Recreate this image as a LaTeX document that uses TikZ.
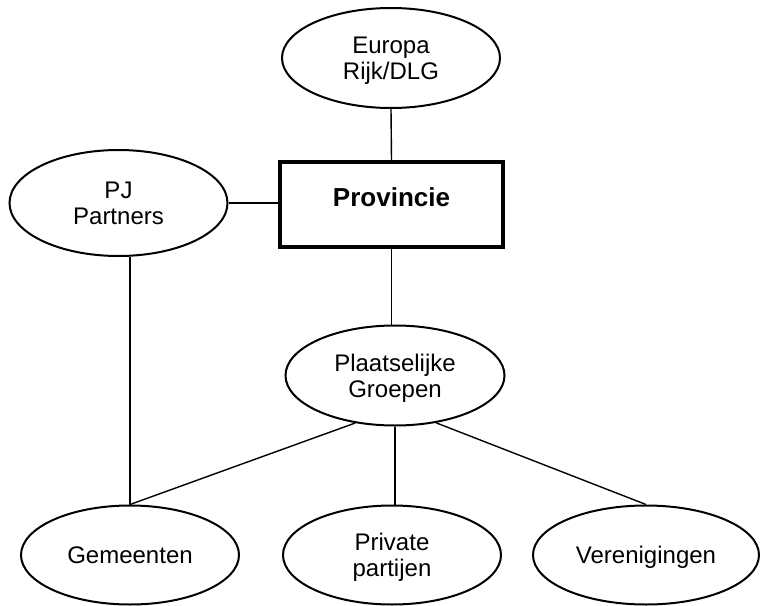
\documentclass[tikz,border=0pt]{standalone}
\usepackage{fontspec}
\setmainfont{Liberation Sans}
\usetikzlibrary{shapes.geometric}
\begin{document}
\begin{tikzpicture}[x=0.5pt, y=-0.5pt,
        party/.style={draw, ellipse, line width=1pt, inner sep=0pt, align=center,
            minimum width=109pt, minimum height=50pt, text depth=0pt,
            font=\fontsize{12}{13}\selectfont},
        hub/.style={draw, rectangle, line width=2pt, inner sep=0pt,
            minimum width=111.5pt, minimum height=42.5pt,
            text height=9pt, text depth=7pt,
            font=\fontsize{13}{15}\selectfont\bfseries},
        link/.style={line width=0.7pt}]
        \useasboundingbox (0,0) rectangle (760,605);

        \node[hub] (prov) at (391.5,204.5) {Provincie};
        \node[party] (eur) at (391,58) {Europa\\Rijk/DLG};
        \node[party, minimum height=53pt] (pj) at (118.5,203) {PJ\\Partners};
        \node[party, minimum width=109.5pt] (pg) at (395,375.5) {Plaatselijke\\Groepen};

        \node[party, minimum height=49.5pt] (gem) at (130,555) {Gemeenten};
        \node[party, minimum height=49.5pt] (priv) at (392,555) {Private\\partijen};
        \node[party, minimum height=49.5pt, minimum width=113pt] (ver) at (646,555) {Verenigingen};

        \draw[link] (eur.south) -- (prov.north);
        \draw[link] (pj.east) -- (pj.east -| prov.west);
        \draw[link] (prov.south) -- (prov.south |- pg.north);
        \draw[link] (pj.south -| gem.north) -- (gem.north);

        \draw[link] (pg.230) -- (gem.north);
        \draw[link] (pg.south) -- (pg.south |- priv.north);
        \draw[link] (pg.311) -- (ver.north);
    \end{tikzpicture}
\end{document}
